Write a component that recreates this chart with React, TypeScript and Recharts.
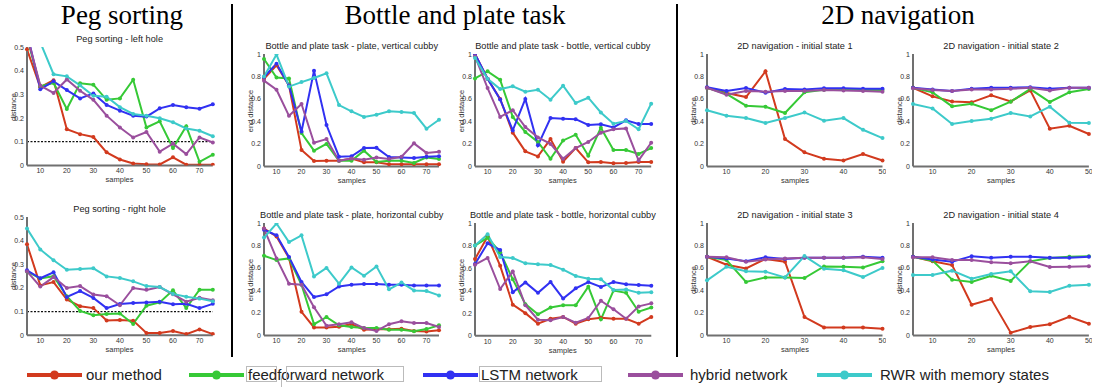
import React from "react";
import { LineChart, Line, XAxis, YAxis, ReferenceLine } from "recharts";

const pegX = [5, 10, 15, 20, 25, 30, 35, 40, 45, 50, 55, 60, 65, 70, 75];
const navX = [5, 10, 15, 20, 25, 30, 35, 40, 45, 50];
const pegXTicks = [10, 20, 30, 40, 50, 60, 70];
const navXTicks = [10, 20, 30, 40, 50];
const pegYTicks = [0, 0.1, 0.2, 0.3, 0.4, 0.5];
const unitYTicks = [0, 0.2, 0.4, 0.6, 0.8, 1];

const seriesNames = ["our method", "feedforward network", "LSTM network", "hybrid network", "RWR with memory states"];
const seriesColors = ["#d23a1e", "#36c936", "#3131f2", "#9a4f9d", "#3dcaca"];

// peg sorting - left hole
const pegLeftOurs = [0.49, 0.33, 0.36, 0.153, 0.132, 0.12, 0.055, 0.025, 0.008, 0.005, 0.004, 0.034, 0.003, 0.003, 0.003];
const pegLeftFF = [0.54, 0.334, 0.348, 0.238, 0.347, 0.341, 0.277, 0.283, 0.362, 0.16, 0.186, 0.073, 0.165, 0.015, 0.045];
const pegLeftLSTM = [0.56, 0.322, 0.355, 0.318, 0.283, 0.304, 0.255, 0.231, 0.21, 0.206, 0.241, 0.255, 0.246, 0.239, 0.258];
const pegLeftHybrid = [0.55, 0.337, 0.306, 0.363, 0.315, 0.277, 0.21, 0.16, 0.118, 0.141, 0.058, 0.092, 0.048, 0.118, 0.097];
const pegLeftRWR = [0.65, 0.52, 0.385, 0.376, 0.338, 0.294, 0.29, 0.246, 0.217, 0.21, 0.199, 0.182, 0.156, 0.146, 0.123];

// peg sorting - right hole
const pegRightOurs = [0.385, 0.211, 0.225, 0.151, 0.123, 0.115, 0.063, 0.065, 0.062, 0.01, 0.01, 0.018, 0.005, 0.025, 0.005];
const pegRightFF = [0.27, 0.24, 0.25, 0.165, 0.103, 0.085, 0.09, 0.092, 0.048, 0.125, 0.139, 0.19, 0.115, 0.193, 0.193];
const pegRightLSTM = [0.275, 0.241, 0.266, 0.162, 0.187, 0.158, 0.115, 0.132, 0.137, 0.139, 0.142, 0.131, 0.133, 0.115, 0.133];
const pegRightHybrid = [0.27, 0.206, 0.246, 0.2, 0.208, 0.172, 0.165, 0.127, 0.2, 0.192, 0.204, 0.173, 0.142, 0.159, 0.148];
const pegRightRWR = [0.451, 0.363, 0.317, 0.277, 0.28, 0.283, 0.249, 0.242, 0.228, 0.208, 0.204, 0.175, 0.163, 0.155, 0.144];

// bottle and plate - plate, vertical cubby
const plateVertOurs = [0.78, 0.9, 0.72, 0.145, 0.047, 0.05, 0.05, 0.07, 0.036, 0.036, 0.02, 0.02, 0.02, 0.02, 0.02];
const plateVertFF = [0.955, 0.79, 0.783, 0.297, 0.14, 0.2, 0.05, 0.05, 0.14, 0.04, 0.05, 0.05, 0.03, 0.08, 0.065];
const plateVertLSTM = [0.795, 0.914, 0.72, 0.31, 0.85, 0.368, 0.086, 0.09, 0.163, 0.165, 0.083, 0.08, 0.074, 0.086, 0.09];
const plateVertHybrid = [0.763, 0.682, 0.45, 0.555, 0.21, 0.243, 0.05, 0.07, 0.06, 0.08, 0.065, 0.086, 0.205, 0.12, 0.13];
const plateVertRWR = [0.8, 0.995, 0.71, 0.75, 0.786, 0.828, 0.546, 0.49, 0.44, 0.46, 0.49, 0.484, 0.475, 0.335, 0.415];

// bottle and plate - bottle, vertical cubby
const bottleVertOurs = [1.0, 0.78, 0.6, 0.3, 0.134, 0.089, 0.243, 0.042, 0.163, 0.036, 0.038, 0.027, 0.03, 0.04, 0.038];
const bottleVertFF = [0.783, 0.846, 0.77, 0.44, 0.306, 0.217, 0.068, 0.231, 0.282, 0.095, 0.344, 0.145, 0.145, 0.11, 0.163];
const bottleVertLSTM = [1.0, 0.78, 0.596, 0.32, 0.6, 0.187, 0.43, 0.424, 0.42, 0.368, 0.374, 0.347, 0.41, 0.377, 0.378];
const bottleVertHybrid = [0.98, 0.697, 0.44, 0.5, 0.35, 0.258, 0.2, 0.068, 0.163, 0.217, 0.3, 0.33, 0.338, 0.053, 0.21];
const bottleVertRWR = [0.964, 0.78, 0.688, 0.712, 0.665, 0.682, 0.593, 0.718, 0.564, 0.611, 0.48, 0.38, 0.404, 0.33, 0.558];

// bottle and plate - plate, horizontal cubby
const plateHorOurs = [0.95, 0.88, 0.688, 0.21, 0.071, 0.07, 0.077, 0.1, 0.05, 0.055, 0.055, 0.06, 0.04, 0.035, 0.045];
const plateHorFF = [0.709, 0.67, 0.685, 0.45, 0.1, 0.163, 0.09, 0.074, 0.065, 0.065, 0.05, 0.05, 0.036, 0.056, 0.09];
const plateHorLSTM = [0.94, 0.89, 0.697, 0.475, 0.341, 0.365, 0.436, 0.45, 0.457, 0.457, 0.45, 0.45, 0.445, 0.445, 0.445];
const plateHorHybrid = [0.95, 0.685, 0.46, 0.45, 0.25, 0.086, 0.1, 0.116, 0.065, 0.04, 0.1, 0.125, 0.11, 0.11, 0.075];
const plateHorRWR = [0.87, 0.995, 0.83, 0.89, 0.525, 0.6, 0.46, 0.605, 0.53, 0.614, 0.41, 0.47, 0.4, 0.395, 0.356];

// bottle and plate - bottle, horizontal cubby
const bottleHorOurs = [0.68, 0.88, 0.62, 0.275, 0.2, 0.107, 0.15, 0.166, 0.107, 0.145, 0.16, 0.15, 0.15, 0.107, 0.166];
const bottleHorFF = [0.8, 0.87, 0.74, 0.5, 0.28, 0.19, 0.25, 0.27, 0.27, 0.435, 0.145, 0.4, 0.38, 0.213, 0.25];
const bottleHorLSTM = [0.636, 0.82, 0.76, 0.385, 0.473, 0.38, 0.476, 0.33, 0.42, 0.476, 0.432, 0.476, 0.456, 0.45, 0.444];
const bottleHorHybrid = [0.63, 0.69, 0.414, 0.57, 0.27, 0.142, 0.136, 0.166, 0.115, 0.157, 0.31, 0.234, 0.15, 0.26, 0.287];
const bottleHorRWR = [0.8, 0.9, 0.698, 0.689, 0.642, 0.633, 0.627, 0.586, 0.53, 0.506, 0.5, 0.405, 0.41, 0.38, 0.385];

// 2D navigation
const nav1Ours = [0.7, 0.653, 0.617, 0.846, 0.243, 0.125, 0.068, 0.053, 0.11, 0.053];
const nav1FF = [0.7, 0.644, 0.54, 0.531, 0.475, 0.659, 0.682, 0.682, 0.68, 0.68];
const nav1LSTM = [0.705, 0.67, 0.697, 0.656, 0.688, 0.685, 0.695, 0.695, 0.69, 0.69];
const nav1Hybrid = [0.7, 0.638, 0.67, 0.665, 0.67, 0.67, 0.68, 0.675, 0.67, 0.665];
const nav1RWR = [0.5, 0.45, 0.43, 0.386, 0.43, 0.48, 0.406, 0.43, 0.326, 0.252];

const nav2Ours = [0.7, 0.623, 0.578, 0.57, 0.632, 0.578, 0.676, 0.335, 0.362, 0.288];
const nav2FF = [0.7, 0.659, 0.534, 0.558, 0.5, 0.576, 0.688, 0.573, 0.659, 0.688];
const nav2LSTM = [0.7, 0.685, 0.67, 0.69, 0.7, 0.7, 0.705, 0.69, 0.7, 0.7];
const nav2Hybrid = [0.695, 0.68, 0.67, 0.685, 0.685, 0.69, 0.7, 0.675, 0.7, 0.7];
const nav2RWR = [0.555, 0.516, 0.377, 0.404, 0.424, 0.475, 0.445, 0.531, 0.389, 0.385];

const nav3Ours = [0.7, 0.629, 0.596, 0.68, 0.656, 0.163, 0.071, 0.071, 0.071, 0.06];
const nav3FF = [0.7, 0.67, 0.475, 0.516, 0.516, 0.51, 0.614, 0.61, 0.605, 0.659];
const nav3LSTM = [0.7, 0.685, 0.66, 0.695, 0.68, 0.69, 0.69, 0.69, 0.7, 0.69];
const nav3Hybrid = [0.7, 0.695, 0.655, 0.675, 0.685, 0.69, 0.69, 0.69, 0.695, 0.68];
const nav3RWR = [0.49, 0.611, 0.57, 0.567, 0.516, 0.706, 0.593, 0.579, 0.519, 0.6];

const nav4Ours = [0.7, 0.659, 0.626, 0.273, 0.323, 0.024, 0.074, 0.1, 0.166, 0.104];
const nav4FF = [0.7, 0.665, 0.496, 0.475, 0.531, 0.484, 0.659, 0.688, 0.7, 0.705];
const nav4LSTM = [0.7, 0.675, 0.656, 0.705, 0.69, 0.7, 0.7, 0.69, 0.69, 0.7];
const nav4Hybrid = [0.695, 0.695, 0.67, 0.67, 0.65, 0.641, 0.659, 0.608, 0.61, 0.615];
const nav4RWR = [0.537, 0.537, 0.576, 0.504, 0.546, 0.57, 0.392, 0.386, 0.442, 0.451];

const SANS = '"Liberation Sans", Arial, Helvetica, sans-serif';
const SERIF = '"Liberation Serif", "Times New Roman", serif';
const KEYS = ["s0", "s1", "s2", "s3", "s4"];

type Plot = {
  title: string;
  ylabel: string;
  x0: number; x1: number; y0: number; y1: number;
  xs: number[];
  xTicks: number[];
  yMax: number;
  yTicks: number[];
  series: number[][];
  refY?: number;
};

const pegPlot = { xs: pegX, xTicks: pegXTicks, yMax: 0.5, yTicks: pegYTicks, ylabel: "distance", refY: 0.1 };
const bpPlot = { xs: pegX, xTicks: pegXTicks, yMax: 1, yTicks: unitYTicks, ylabel: "end distance" };
const navPlot = { xs: navX, xTicks: navXTicks, yMax: 1, yTicks: unitYTicks, ylabel: "distance" };

const plots: Plot[] = [
  { ...pegPlot, title: "Peg sorting - left hole", x0: 26.7, x1: 212.5, y0: 47.3, y1: 165.7,
    series: [pegLeftOurs, pegLeftFF, pegLeftLSTM, pegLeftHybrid, pegLeftRWR] },
  { ...pegPlot, title: "Peg sorting - right hole", x0: 26.7, x1: 212.5, y0: 216.7, y1: 335,
    series: [pegRightOurs, pegRightFF, pegRightLSTM, pegRightHybrid, pegRightRWR] },
  { ...bpPlot, title: "Bottle and plate task - plate, vertical cubby", x0: 264.2, x1: 439.2, y0: 54.3, y1: 166.7,
    series: [plateVertOurs, plateVertFF, plateVertLSTM, plateVertHybrid, plateVertRWR] },
  { ...bpPlot, title: "Bottle and plate task - bottle, vertical cubby", x0: 474.7, x1: 650.9, y0: 54.3, y1: 166.7,
    series: [bottleVertOurs, bottleVertFF, bottleVertLSTM, bottleVertHybrid, bottleVertRWR] },
  { ...bpPlot, title: "Bottle and plate task - plate, horizontal cubby", x0: 264.2, x1: 439.2, y0: 223.3, y1: 335.7,
    series: [plateHorOurs, plateHorFF, plateHorLSTM, plateHorHybrid, plateHorRWR] },
  { ...bpPlot, title: "Bottle and plate task - bottle, horizontal cubby", x0: 474.7, x1: 651, y0: 223.3, y1: 336,
    series: [bottleHorOurs, bottleHorFF, bottleHorLSTM, bottleHorHybrid, bottleHorRWR] },
  { ...navPlot, title: "2D navigation - initial state 1", x0: 707.2, x1: 882.7, y0: 54.3, y1: 166.7,
    series: [nav1Ours, nav1FF, nav1LSTM, nav1Hybrid, nav1RWR] },
  { ...navPlot, title: "2D navigation - initial state 2", x0: 913.1, x1: 1089, y0: 54.3, y1: 166.7,
    series: [nav2Ours, nav2FF, nav2LSTM, nav2Hybrid, nav2RWR] },
  { ...navPlot, title: "2D navigation - initial state 3", x0: 707.2, x1: 882.7, y0: 223.3, y1: 335.7,
    series: [nav3Ours, nav3FF, nav3LSTM, nav3Hybrid, nav3RWR] },
  { ...navPlot, title: "2D navigation - initial state 4", x0: 913.1, x1: 1089, y0: 223.3, y1: 335.7,
    series: [nav4Ours, nav4FF, nav4LSTM, nav4Hybrid, nav4RWR] },
];

const YW = 30;
const MT = 3;
const MR = 3;
const XH = 14;

function SubPlot({ p }: { p: Plot }) {
  const rows = p.xs.map((x, i) => {
    const row: Record<string, number> = { x };
    p.series.forEach((s, k) => (row[KEYS[k]] = s[i]));
    return row;
  });
  const pw = p.x1 - p.x0;
  const ph = p.y1 - p.y0;
  const tick = { fontSize: 7, fill: "#333", fontFamily: SANS };
  return (
    <>
      <div style={{ position: "absolute", left: p.x0 - 20, width: pw + 40, top: p.y0 - 13, lineHeight: "11px",
        textAlign: "center", fontSize: 9.2, fontFamily: SANS, color: "#222", whiteSpace: "nowrap" }}>
        {p.title}
      </div>
      <div style={{ position: "absolute", left: p.x0 - YW, top: p.y0 - MT }}>
        <LineChart width={pw + YW + MR} height={ph + MT + XH} data={rows}
          margin={{ top: MT, right: MR, bottom: 0, left: 0 }}>
          <XAxis dataKey="x" type="number" domain={[p.xs[0], p.xs[p.xs.length - 1]]} ticks={p.xTicks}
            interval={0} height={XH} tick={tick} tickLine={false} tickSize={1} tickMargin={2}
            axisLine={{ stroke: "#707070", strokeWidth: 2 }} />
          <YAxis type="number" domain={[0, p.yMax]} ticks={p.yTicks} allowDataOverflow interval={0}
            width={YW} tick={tick} tickLine={false} tickSize={1} tickMargin={2}
            axisLine={{ stroke: "#707070", strokeWidth: 2 }} />
          {p.refY !== undefined && (
            <ReferenceLine y={p.refY} stroke="#111" strokeWidth={1.2} strokeDasharray="2 1.5" />
          )}
          {KEYS.map((k, i) => (
            <Line key={k} dataKey={k} type="linear" stroke={seriesColors[i]} strokeWidth={2}
              dot={{ r: 2, fill: seriesColors[i], stroke: seriesColors[i], strokeWidth: 0 }}
              isAnimationActive={false} />
          ))}
        </LineChart>
      </div>
      <div style={{ position: "absolute", left: p.x0 - 14, top: (p.y0 + p.y1) / 2,
        transform: "translate(-50%, -50%) rotate(-90deg)", fontSize: 7.5, fontFamily: SANS,
        color: "#333", whiteSpace: "nowrap", lineHeight: "9px" }}>
        {p.ylabel}
      </div>
      <div style={{ position: "absolute", left: p.x0, width: pw, top: p.y1 + 9.5, lineHeight: "10px",
        textAlign: "center", fontSize: 7.5, fontFamily: SANS, color: "#333" }}>
        samples
      </div>
    </>
  );
}

const sections = [
  { label: "Peg sorting", cx: 122 },
  { label: "Bottle and plate task", cx: 455 },
  { label: "2D navigation", cx: 898 },
];
const legendLineX = [27, 189, 423, 628, 817];
const legendTextX = [86, 248, 481, 690, 880];

export default function App() {
  return (
    <div style={{ position: "absolute", left: 0, top: 0, width: 1096, height: 387, background: "#fff", overflow: "hidden" }}>
      {sections.map((s) => (
        <div key={s.label} style={{ position: "absolute", left: s.cx - 200, width: 400, top: 0, textAlign: "center",
          fontFamily: SERIF, fontSize: 27, lineHeight: "30px", color: "#000" }}>
          {s.label}
        </div>
      ))}
      <div style={{ position: "absolute", left: 231, top: 4, width: 1.5, height: 353, background: "#000" }} />
      <div style={{ position: "absolute", left: 676, top: 4, width: 1.5, height: 353, background: "#000" }} />
      {plots.map((p) => (
        <SubPlot key={p.title} p={p} />
      ))}
      {seriesNames.map((name, i) => (
        <React.Fragment key={name}>
          <svg style={{ position: "absolute", left: legendLineX[i], top: 368 }} width={56} height={14}>
            <line x1={0} y1={7} x2={55} y2={7} stroke={seriesColors[i]} strokeWidth={4} />
            <circle cx={27.5} cy={7} r={4.5} fill={seriesColors[i]} />
          </svg>
          <div style={{ position: "absolute", left: legendTextX[i], top: 366, fontSize: 15, lineHeight: "18px",
            fontFamily: SANS, color: "#222", whiteSpace: "nowrap" }}>
            {name}
          </div>
        </React.Fragment>
      ))}
      <div style={{ position: "absolute", left: 246, top: 366, width: 31, height: 16, border: "1px solid #bbb", boxSizing: "border-box" }} />
      <div style={{ position: "absolute", left: 286, top: 366, width: 118, height: 16, border: "1px solid #bbb", boxSizing: "border-box" }} />
      <div style={{ position: "absolute", left: 281, top: 376, width: 1, height: 11, background: "#bbb" }} />
      <div style={{ position: "absolute", left: 479, top: 366, width: 123, height: 16, border: "1px solid #bbb", boxSizing: "border-box" }} />
    </div>
  );
}
